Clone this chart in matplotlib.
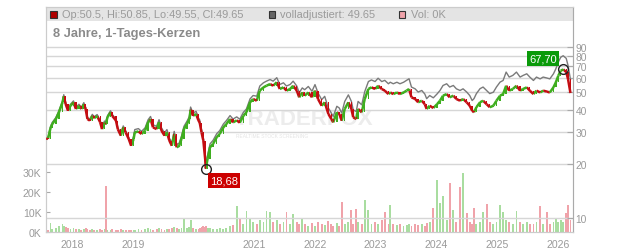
import matplotlib
matplotlib.use('Agg')
import matplotlib.pyplot as plt
from matplotlib.patches import Rectangle
from matplotlib.collections import LineCollection

plt.rcParams['font.family'] = ['Liberation Sans', 'DejaVu Sans']

# daily chart, sampled: date (fractional year), close, adjusted close, volume (K)
dates = [2017.57, 2017.60, 2017.64, 2017.67, 2017.73, 2017.78, 2017.84, 2017.86, 2017.89, 2017.93,
         2017.97, 2018.02, 2018.06, 2018.11, 2018.15, 2018.19, 2018.22, 2018.25, 2018.29, 2018.33,
         2018.36, 2018.41, 2018.46, 2018.49, 2018.53, 2018.55, 2018.58, 2018.63, 2018.66, 2018.72,
         2018.75, 2018.80, 2018.84, 2018.88, 2018.93, 2018.97,
         2019.01, 2019.03, 2019.09, 2019.14, 2019.20, 2019.25, 2019.29, 2019.33, 2019.39, 2019.43,
         2019.47, 2019.52, 2019.56, 2019.60, 2019.64, 2019.68, 2019.72, 2019.76, 2019.80, 2019.84,
         2019.89, 2019.93, 2019.95, 2019.99, 2020.04, 2020.08, 2020.10, 2020.13, 2020.16, 2020.19,
         2020.20, 2020.23, 2020.27, 2020.32, 2020.38, 2020.43, 2020.49, 2020.54, 2020.60, 2020.65,
         2020.71, 2020.76, 2020.82, 2020.87, 2020.93, 2020.98,
         2021.04, 2021.09, 2021.15, 2021.20, 2021.26, 2021.31, 2021.37, 2021.42, 2021.48, 2021.53,
         2021.59, 2021.64, 2021.70, 2021.74, 2021.79,
         2021.83, 2021.89, 2021.95, 2022.00, 2022.05, 2022.11, 2022.16, 2022.22, 2022.27, 2022.30,
         2022.36, 2022.40,
         2022.44, 2022.49, 2022.55, 2022.60, 2022.63, 2022.68, 2022.71, 2022.77, 2022.82, 2022.88,
         2022.93, 2022.99, 2023.04, 2023.10,
         2023.15, 2023.21, 2023.24, 2023.29, 2023.35, 2023.40, 2023.46, 2023.51, 2023.55, 2023.59,
         2023.65, 2023.70, 2023.76, 2023.81, 2023.84, 2023.89, 2023.95, 2024.01, 2024.06, 2024.11,
         2024.17, 2024.22, 2024.28, 2024.33, 2024.39, 2024.44, 2024.50, 2024.55, 2024.59,
         2024.62, 2024.66, 2024.72, 2024.77, 2024.83, 2024.88, 2024.94, 2024.99, 2025.05, 2025.10,
         2025.15, 2025.20, 2025.26, 2025.32, 2025.38, 2025.43, 2025.49, 2025.54, 2025.60, 2025.65,
         2025.71, 2025.76, 2025.82, 2025.87, 2025.93, 2025.97, 2026.01, 2026.05, 2026.09, 2026.14,
         2026.17, 2026.21]

closes = [27.8, 27.6, 31.6, 33.4, 35.6, 38.8, 44.1, 47.6, 43.2, 39.6,
          42.2, 44.0, 40.5, 42.2, 40.5, 43.0, 40.5, 35.6, 34.9, 37.1,
          36.0, 37.0, 34.1, 31.3, 34.0, 33.2, 36.4, 38.8, 37.0, 34.9,
          31.3, 28.8, 32.0, 30.0, 27.6, 25.3,
          27.5, 30.0, 30.4, 29.4, 30.7, 34.1, 35.6, 32.0, 31.3, 34.1,
          30.7, 28.8, 30.0, 27.0, 25.3, 29.4, 24.8, 25.2, 27.6, 31.3,
          33.4, 35.6, 40.1, 37.1, 38.0, 34.9, 34.0, 30.0, 27.0, 21.4,
          18.9, 21.4, 24.8, 25.9, 28.2, 29.4, 32.0, 33.4, 35.6, 34.1,
          35.0, 34.0, 37.1, 38.8, 44.1, 46.0,
          45.0, 51.2, 53.4, 54.5, 55.7, 54.5, 57.0, 52.3, 53.4, 51.2,
          52.3, 54.5, 51.2, 47.0, 50.0,
          48.0, 50.0, 47.0, 51.2, 46.0, 42.2, 44.1, 38.0, 35.6, 34.1,
          38.8, 38.0,
          34.9, 40.5, 44.1, 40.5, 36.4, 35.6, 40.5, 38.8, 46.0, 52.3,
          53.4, 52.3, 54.5, 52.3,
          51.2, 49.0, 50.0, 49.0, 50.0, 49.0, 50.0, 51.2, 52.3, 47.0,
          46.0, 44.1, 45.0, 43.0, 40.5, 42.2, 41.0, 43.0, 45.0, 48.0,
          49.0, 47.0, 48.0, 46.0, 45.0, 46.0, 44.1, 42.2, 39.6,
          38.8, 41.4, 44.1, 45.0, 43.0, 41.4, 42.2, 45.0, 48.0, 49.0,
          54.5, 51.2, 52.3, 54.5, 51.2, 52.3, 53.4, 51.2, 49.0, 51.2,
          50.0, 51.2, 50.6, 50.0, 53.4, 57.0, 62.0, 66.0, 67.2, 65.0,
          59.4, 49.65]

adjusted = [28.4, 28.2, 32.2, 34.1, 36.3, 39.6, 45.0, 48.6, 44.1, 40.4,
            43.0, 44.9, 41.3, 43.0, 41.3, 43.9, 41.3, 36.3, 35.6, 37.8,
            36.7, 37.7, 34.8, 31.9, 34.7, 33.9, 37.1, 39.6, 37.7, 35.6,
            31.9, 29.4, 32.6, 30.6, 28.2, 25.8,
            28.5, 31.1, 31.5, 30.4, 31.8, 35.3, 36.8, 33.1, 32.4, 35.3,
            31.8, 29.8, 31.1, 27.9, 26.2, 30.4, 25.7, 26.1, 28.6, 32.4,
            34.6, 36.8, 41.5, 38.4, 39.3, 36.1, 35.2, 31.1, 27.9, 22.1,
            19.8, 22.4, 25.9, 27.1, 29.5, 30.7, 33.4, 34.9, 37.2, 35.6,
            36.6, 35.5, 38.8, 40.5, 46.1, 48.1,
            47.7, 54.3, 56.6, 57.8, 59.0, 57.8, 60.4, 55.4, 56.6, 54.3,
            55.4, 57.8, 54.3, 49.8, 53.0,
            51.8, 54.0, 50.8, 55.3, 49.7, 45.6, 47.6, 41.0, 38.4, 36.8,
            41.9, 41.0,
            38.4, 44.6, 48.5, 44.6, 40.0, 39.2, 44.6, 42.7, 50.6, 57.5,
            58.7, 57.5, 60.0, 57.5,
            58.4, 55.9, 57.0, 55.9, 57.0, 55.9, 57.0, 58.4, 59.6, 53.6,
            52.4, 50.3, 51.3, 49.0, 46.2, 48.1, 46.7, 49.0, 51.3, 54.7,
            55.9, 53.6, 54.7, 52.4, 51.3, 52.4, 50.3, 48.1, 45.1,
            46.2, 49.3, 52.5, 53.6, 51.2, 49.3, 50.2, 53.6, 57.1, 58.3,
            64.9, 60.9, 62.2, 64.9, 60.9, 62.2, 63.5, 60.9, 58.3, 60.9,
            59.5, 60.9, 60.2, 59.5, 63.5, 67.8, 73.8, 78.5, 80.0, 77.4,
            70.7, 59.1]

volumes = [1.5, 1.0, 4.3, 1.5, 2.0, 3.0, 4.0, 3.0, 2.5, 2.0,
           1.5, 2.0, 1.5, 1.5, 1.0, 1.5, 2.0, 1.5, 1.0, 1.5,
           1.0, 1.0, 1.5, 1.0, 1.5, 23.0, 1.0, 1.0, 1.5, 1.0,
           1.0, 1.5, 1.0, 1.0, 1.0, 1.0,
           1.0, 1.0, 1.5, 1.0, 1.5, 2.0, 1.5, 1.0, 1.5, 2.0,
           1.5, 1.0, 1.5, 1.5, 2.0, 2.5, 2.0, 1.5, 2.0, 6.3,
           2.0, 2.5, 5.8, 2.0, 1.5, 1.5, 2.0, 2.5, 3.0, 2.5,
           3.0, 2.0, 2.0, 1.5, 1.5, 2.0, 1.5, 2.0, 3.0, 3.5,
           12.7, 6.7, 4.0, 10.3, 7.0, 5.0,
           4.0, 6.0, 5.0, 10.5, 10.0, 5.0, 6.0, 4.0, 5.0, 9.7,
           4.0, 9.0, 5.0, 4.0, 7.0,
           4.0, 3.0, 4.5, 3.0, 5.0, 4.0, 3.5, 5.5, 4.0, 3.0,
           4.5, 3.0,
           14.7, 4.0, 5.0, 11.0, 4.0, 11.3, 5.0, 4.0, 16.0, 11.0,
           4.0, 5.0, 4.0, 6.0,
           10.0, 4.0, 13.3, 4.0, 3.5, 4.0, 3.0, 3.5, 4.0, 3.0,
           4.0, 3.5, 4.0, 3.0, 4.5, 5.0, 12.0, 25.8, 14.3, 18.0,
           6.0, 24.3, 11.0, 5.0, 22.3, 29.3, 9.3, 5.0, 4.0,
           12.0, 4.0, 5.0, 9.7, 13.8, 5.0, 4.0, 5.0, 13.3, 10.0,
           6.0, 5.0, 4.0, 10.2, 5.0, 4.0, 5.0, 4.0, 4.0, 5.0,
           13.0, 4.0, 9.7, 4.0, 5.0, 6.7, 5.0, 6.0, 5.0, 9.3,
           13.3, 6.0]

year_ticks = [2018, 2019, 2021, 2022, 2023, 2024, 2025, 2026]
price_ticks = [10, 20, 30, 40, 50, 60, 70, 80, 90]
vol_ticks = [0, 10, 20, 30]
vol_labels = ['0K', '10K', '20K', '30K']
low_date, low_val = 2020.20, 18.68
high_date, high_val = 2026.09, 67.70

red = '#c40d12'
green = '#3fae1f'
red_vol = '#f0a3aa'
green_vol = '#a9dda0'
gray_txt = '#9a9a9a'

W, H = 632, 253
fig = plt.figure(figsize=(W / 100, H / 100), dpi=100)
left, right, top, bottom = 45.7, 572.7, 8.0, 232.7
ax_v = fig.add_axes([left / W, 1 - bottom / H, (right - left) / W, (bottom - top) / H])
ax_p = ax_v.twinx()

# header band
ax_v.add_patch(Rectangle((0, 1 - 14 / (bottom - top)), 1, 14 / (bottom - top),
                         transform=ax_v.transAxes, facecolor='#e4e4e4', edgecolor='none', zorder=0))

# watermark
ax_v.text(0.49, 0.505, 'TRADERFOX', transform=ax_v.transAxes, ha='center', va='center',
          fontsize=16, fontweight='bold', color='#ececec', zorder=0)
ax_v.text(0.43, 0.43, 'REALTIME STOCK SCREENING', transform=ax_v.transAxes, ha='center',
          va='center', fontsize=3.5, color='#e4e4e4', zorder=0)

opens = [closes[0]] + closes[:-1]
up = [c >= o for o, c in zip(opens, closes)]

# volume
ax_v.bar(dates, volumes, width=0.03, color=[green_vol if u else red_vol for u in up],
         linewidth=0, zorder=2)
ax_v.set_ylim(0, (bottom - top) / 2)
ax_v.set_yticks(vol_ticks)
ax_v.set_yticklabels(vol_labels)

# price
ax_p.set_yscale('log')
ax_p.plot(dates, adjusted, color='#7a7a7a', lw=1.0, zorder=2)
cols = [green if u else red for u in up]
segs = [[(dates[i - 1], closes[i - 1]), (dates[i], closes[i])] for i in range(1, len(dates))]
ax_p.add_collection(LineCollection(segs, colors=cols[1:], linewidths=1.8, zorder=3,
                                   capstyle='butt'))
lows = [min(o, c) for o, c in zip(opens, closes)]
hts = [abs(c - o) for o, c in zip(opens, closes)]
ax_p.bar(dates, hts, bottom=lows, width=0.022, color=cols, linewidth=0, zorder=3)

ax_p.plot([low_date], [low_val], 'o', ms=7, mfc='none', mec='#222222', mew=1, zorder=4)
ax_p.plot([high_date], [high_val], 'o', ms=7, mfc='none', mec='#222222', mew=1, zorder=4)
ax_p.annotate('18,68', xy=(low_date, low_val), xytext=(3, -4.5), textcoords='offset points',
              ha='left', va='top', color='white', fontsize=8,
              bbox=dict(boxstyle='square,pad=0.2', fc='#cc0000', ec='none'), zorder=5)
ax_p.annotate('67,70', xy=(high_date, high_val), xytext=(-4.5, 3.8), textcoords='offset points',
              ha='right', va='bottom', color='white', fontsize=8,
              bbox=dict(boxstyle='square,pad=0.2', fc='#0a9a0a', ec='none'), zorder=5)

p_bot = 10 * 10 ** ((219.3 - bottom) / 180)
p_top = 10 * 10 ** ((219.3 - top) / 180)
ax_p.set_ylim(p_bot, p_top)
ax_p.set_yticks(price_ticks)
ax_p.set_yticklabels([str(t) for t in price_ticks])
ax_p.yaxis.set_minor_locator(matplotlib.ticker.NullLocator())

ax_v.set_xlim(2017.562, 2026.247)
ax_v.set_xticks(year_ticks)
ax_v.set_xticklabels([str(y) for y in year_ticks])
ax_p.grid(True, color='#d6d6d6', lw=1, zorder=1)
ax_p.set_axisbelow(True)

ax_v.tick_params(axis='x', length=0, pad=5, labelsize=7.6, colors=gray_txt)
ax_v.tick_params(axis='y', direction='in', length=3, pad=3, labelsize=7.6,
                 colors='#aaaaaa', labelcolor=gray_txt)
ax_p.tick_params(axis='y', direction='in', length=4, pad=2, labelsize=7.4,
                 colors='#aaaaaa', labelcolor=gray_txt)
for a in (ax_v, ax_p):
    for s in a.spines.values():
        s.set_color('#cccccc')
ax_p.spines['right'].set_color('#aaaaaa')

# header legend
def sq(x, fc):
    fig.patches.append(Rectangle((x / W, 1 - 18.5 / H), 6.5 / W, 6.5 / H, transform=fig.transFigure,
                                 facecolor=fc, edgecolor='#333333', lw=0.8))

sq(50, '#b00000')
fig.text(61.5 / W, 1 - 15.5 / H, 'Op:50.5, Hi:50.85, Lo:49.55, Cl:49.65', fontsize=7.95,
         color=gray_txt, va='center')
sq(268.5, '#666666')
fig.text(280.5 / W, 1 - 15.5 / H, 'volladjustiert: 49.65', fontsize=7.95, color=gray_txt, va='center')
sq(399, '#f0a3aa')
fig.text(411 / W, 1 - 15.5 / H, 'Vol: 0K', fontsize=7.95, color=gray_txt, va='center')
fig.text(53 / W, 1 - 33.5 / H, '8 Jahre, 1-Tages-Kerzen', fontsize=9.3, fontweight='bold',
         color='#8a8a8a', va='center')

fig.savefig('out.png', dpi=100)
